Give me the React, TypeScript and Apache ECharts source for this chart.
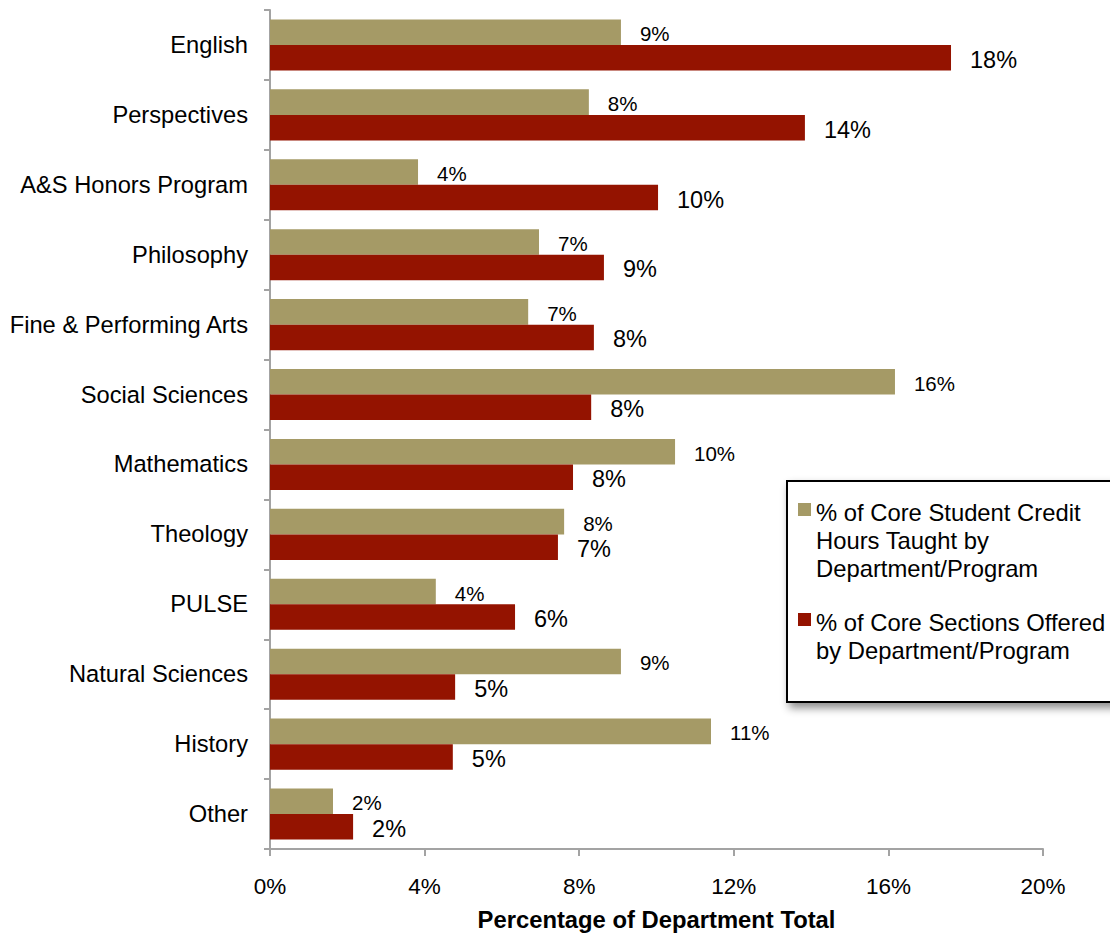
import React, { useEffect, useRef } from 'react';
import * as echarts from 'echarts';

const CATEGORIES = [
  'English',
  'Perspectives',
  'A&S Honors Program',
  'Philosophy',
  'Fine & Performing Arts',
  'Social Sciences',
  'Mathematics',
  'Theology',
  'PULSE',
  'Natural Sciences',
  'History',
  'Other',
];

// % of Core Student Credit Hours Taught by Department/Program
const CREDIT_HOURS = [9.08, 8.25, 3.83, 6.96, 6.68, 16.17, 10.48, 7.61, 4.29, 9.08, 11.41, 1.63];
// % of Core Sections Offered by Department/Program
const SECTIONS = [17.62, 13.84, 10.04, 8.64, 8.38, 8.31, 7.84, 7.45, 6.34, 4.79, 4.73, 2.15];

const X_MIN = 0;
const X_MAX = 20;
const X_INTERVAL = 4;

const SERIES_NAMES = [
  '% of Core Student Credit Hours Taught by Department/Program',
  '% of Core Sections Offered by Department/Program',
];
const LEGEND_LINES = [
  '% of Core Student Credit\nHours Taught by\nDepartment/Program',
  '% of Core Sections Offered\nby Department/Program',
];
const AXIS_TITLE = 'Percentage of Department Total';

const TAN = '#A59A66';
const RED = '#941300';
const AXIS_GREY = '#A3A3A3';
const FONT = '"Liberation Sans", Arial, Helvetica, sans-serif';

export default function App() {
  const ref = useRef<HTMLDivElement>(null);

  useEffect(() => {
    if (!ref.current) return;
    const chart = echarts.init(ref.current, null, { renderer: 'svg' });
    const pct = (p: any) => Math.round(p.value) + '%';
    chart.setOption({
      animation: false,
      backgroundColor: '#fff',
      textStyle: { fontFamily: FONT, color: '#000' },
      grid: {
        left: 270,
        right: 67,
        top: 10,
        bottom: 86,
        containLabel: false,
        outerBoundsMode: 'none',
      },
      xAxis: {
        type: 'value',
        min: X_MIN,
        max: X_MAX,
        interval: X_INTERVAL,
        name: AXIS_TITLE,
        nameLocation: 'middle',
        nameGap: 58,
        nameTextStyle: { fontFamily: FONT, fontSize: 23.8, fontWeight: 'bold', color: '#000' },
        axisLine: { show: true, lineStyle: { color: AXIS_GREY, width: 2 } },
        axisTick: { show: true, length: 7, lineStyle: { color: AXIS_GREY, width: 2 } },
        axisLabel: { formatter: '{value}%', fontSize: 22.5, margin: 26, color: '#000', fontFamily: FONT },
        splitLine: { show: false },
      },
      yAxis: {
        type: 'category',
        inverse: true,
        data: CATEGORIES,
        axisLine: { show: true, lineStyle: { color: AXIS_GREY, width: 2 } },
        axisTick: { show: true, length: 6, lineStyle: { color: AXIS_GREY, width: 2 } },
        axisLabel: {
          fontSize: 23.7,
          margin: 22,
          color: '#000',
          fontFamily: FONT,
          padding: [0, 0, 4, 0],
        },
        splitLine: { show: false },
      },
      series: [
        {
          name: SERIES_NAMES[0],
          type: 'bar',
          data: CREDIT_HOURS,
          barGap: '0%',
          barCategoryGap: '27%',
          itemStyle: { color: TAN },
          label: {
            show: true,
            position: 'right',
            distance: 19,
            offset: [0, 1.5],
            formatter: pct,
            fontSize: 20.5,
            color: '#000',
            fontFamily: FONT,
          },
        },
        {
          name: SERIES_NAMES[1],
          type: 'bar',
          data: SECTIONS,
          barGap: '0%',
          barCategoryGap: '27%',
          itemStyle: { color: RED },
          label: {
            show: true,
            position: 'right',
            distance: 19,
            offset: [0, 2],
            formatter: pct,
            fontSize: 23.5,
            color: '#000',
            fontFamily: FONT,
          },
        },
      ],
      graphic: [
        {
          type: 'rect',
          z: 100,
          shape: { x: 787, y: 481, width: 340, height: 221 },
          style: {
            fill: '#fff',
            stroke: '#000',
            lineWidth: 2,
            shadowBlur: 8,
            shadowOffsetX: 3,
            shadowOffsetY: 5,
            shadowColor: 'rgba(0,0,0,0.45)',
          },
        },
        {
          type: 'rect',
          z: 101,
          shape: { x: 798, y: 503, width: 13, height: 13 },
          style: { fill: TAN },
        },
        {
          type: 'text',
          z: 101,
          x: 816,
          y: 498.5,
          style: {
            text: LEGEND_LINES[0],
            fontSize: 23.8,
            fontFamily: FONT,
            lineHeight: 28,
            fill: '#000',
            align: 'left',
            verticalAlign: 'top',
          },
        },
        {
          type: 'rect',
          z: 101,
          shape: { x: 798, y: 613, width: 13, height: 13 },
          style: { fill: RED },
        },
        {
          type: 'text',
          z: 101,
          x: 816,
          y: 608.5,
          style: {
            text: LEGEND_LINES[1],
            fontSize: 23.8,
            fontFamily: FONT,
            lineHeight: 28,
            fill: '#000',
            align: 'left',
            verticalAlign: 'top',
          },
        },
      ],
    });
    return () => chart.dispose();
  }, []);

  return (
    <div
      ref={ref}
      style={{ position: 'fixed', left: 0, top: 0, width: 1110, height: 935, background: '#fff' }}
    />
  );
}
